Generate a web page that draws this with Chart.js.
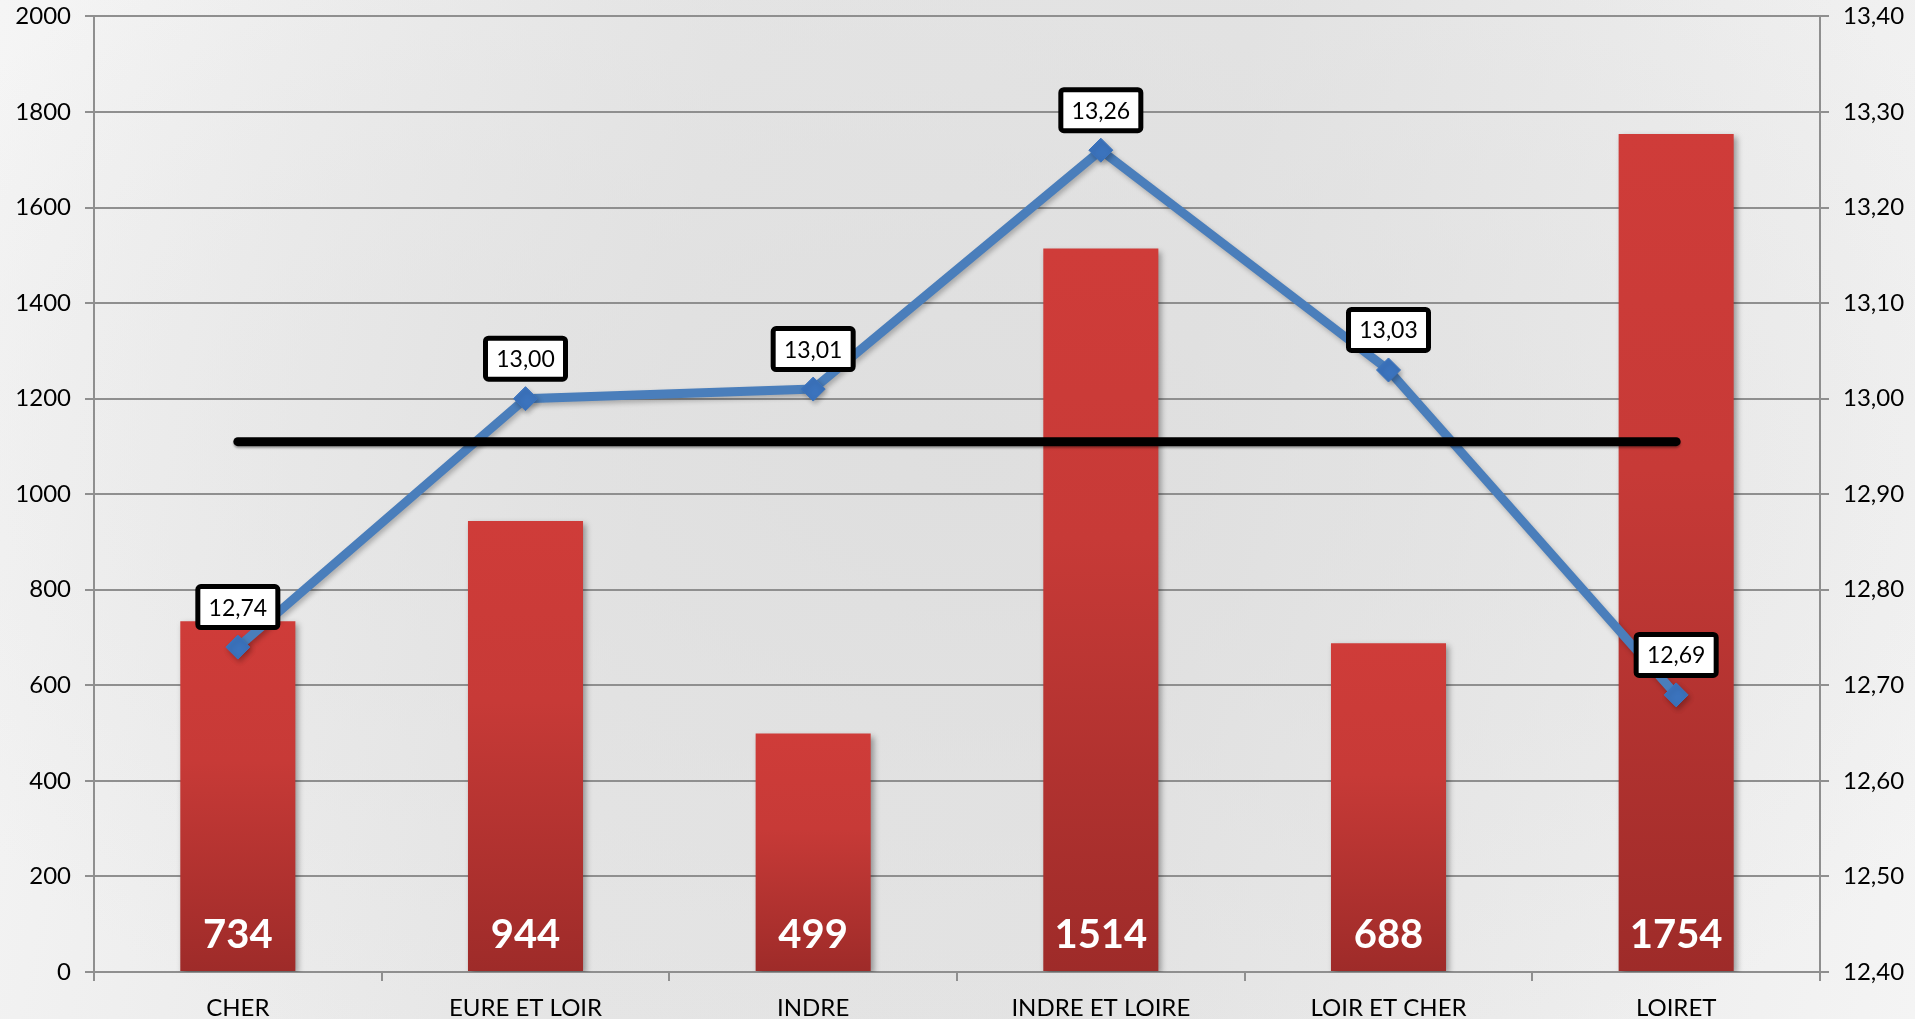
<!DOCTYPE html>
<html>
<head>
<meta charset="utf-8">
<script src="https://cdn.jsdelivr.net/npm/chart.js@4.4.1/dist/chart.umd.min.js"></script>
<style>
  html, body { margin: 0; padding: 0; }
  body {
    width: 1915px; height: 1019px; overflow: hidden;
    background:
      radial-gradient(ellipse 60% 70% at 50% 45%, rgba(222,222,222,0.9), rgba(222,222,222,0) 100%),
      linear-gradient(100deg, #f5f5f5 0%, #e6e6e6 35%, #e4e4e4 60%, #ececec 80%, #f4f4f4 100%);
  }
  #wrap { position: relative; width: 1915px; height: 1019px; }
</style>
</head>
<body>
<div id="wrap"><canvas id="dept-chart"></canvas></div>
<script>
// Départements de la région Centre
const departements = ['CHER', 'EURE ET LOIR', 'INDRE', 'INDRE ET LOIRE', 'LOIR ET CHER', 'LOIRET'];
const effectifs = [734, 944, 499, 1514, 688, 1754];
const notes = [12.74, 13.00, 13.01, 13.26, 13.03, 12.69];
const moyenne = [12.955, 12.955, 12.955, 12.955, 12.955, 12.955];

const gridGray = '#8f8f8f';
const fontFam = 'Lato, "Open Sans", sans-serif';

const fmtNote = v => v.toFixed(2).replace('.', ',');

// ombres portées des barres et des marqueurs
const shadowPlugin = {
  id: 'shadows',
  beforeDatasetDraw(chart, args) {
    const ctx = chart.ctx;
    ctx.save();
    if (args.index === 0) {
      ctx.shadowColor = 'rgba(0,0,0,0.3)';
      ctx.shadowBlur = 2; ctx.shadowOffsetY = 2;
    } else if (args.index === 1) {
      ctx.shadowColor = 'rgba(0,0,0,0.25)';
      ctx.shadowBlur = 5; ctx.shadowOffsetX = 2; ctx.shadowOffsetY = 3;
    } else {
      ctx.shadowColor = 'rgba(0,0,0,0.35)';
      ctx.shadowBlur = 6; ctx.shadowOffsetX = 3; ctx.shadowOffsetY = 3;
    }
  },
  afterDatasetDraw(chart) { chart.ctx.restore(); }
};

// étiquettes : effectifs en bas des barres, notes encadrées au-dessus des points
const labelsPlugin = {
  id: 'valueLabels',
  afterDatasetsDraw(chart) {
    const ctx = chart.ctx;
    const base = chart.scales.y.getPixelForValue(0);
    ctx.save();
    ctx.textAlign = 'center';
    ctx.textBaseline = 'middle';

    ctx.fillStyle = '#ffffff';
    ctx.font = 'bold 40px ' + fontFam;
    chart.getDatasetMeta(2).data.forEach((bar, i) => {
      ctx.fillText(String(effectifs[i]), bar.x, base - 37);
    });

    ctx.font = '23px ' + fontFam;
    chart.getDatasetMeta(1).data.forEach((pt, i) => {
      const w = 80, h = 41, cx = pt.x, cy = pt.y - 40;
      ctx.beginPath();
      ctx.roundRect(cx - w / 2, cy - h / 2, w, h, 3);
      ctx.fillStyle = '#ffffff';
      ctx.fill();
      ctx.lineWidth = 5;
      ctx.strokeStyle = '#000000';
      ctx.stroke();
      ctx.fillStyle = '#000000';
      ctx.fillText(fmtNote(notes[i]), cx, cy + 1);
    });
    ctx.restore();
  }
};

function barGradient(c) {
  const chart = c.chart;
  if (!chart.chartArea) return '#c93a37';
  const y = chart.scales.y;
  const top = y.getPixelForValue(c.raw);
  const bottom = y.getPixelForValue(0);
  const g = chart.ctx.createLinearGradient(0, top, 0, bottom);
  g.addColorStop(0, '#cf3c39');
  g.addColorStop(0.4, '#c73a37');
  g.addColorStop(1, '#9e2b29');
  return g;
}

new Chart(document.getElementById('dept-chart'), {
  data: {
    labels: departements,
    datasets: [
      {
        type: 'line', label: 'Moyenne',
        data: moyenne, yAxisID: 'y1', order: 0,
        borderColor: '#000000', borderWidth: 9, borderCapStyle: 'round',
        pointRadius: 0, tension: 0
      },
      {
        type: 'line', label: 'Note',
        data: notes, yAxisID: 'y1', order: 1,
        borderColor: '#4a7ebb', borderWidth: 9, tension: 0,
        pointStyle: 'rectRot', pointRadius: 12,
        pointBackgroundColor: '#3b73bd', pointBorderColor: '#3b73bd', pointBorderWidth: 1
      },
      {
        type: 'bar', label: 'Effectif',
        data: effectifs, yAxisID: 'y', order: 2,
        backgroundColor: barGradient,
        categoryPercentage: 1, barPercentage: 0.4
      }
    ]
  },
  options: {
    responsive: true,
    maintainAspectRatio: false,
    animation: false,
    layout: { padding: { top: 14 } },
    plugins: { legend: { display: false }, tooltip: { enabled: false } },
    scales: {
      x: {
        offset: true,
        afterFit: s => { s.height = 47; },
        grid: { drawOnChartArea: false, color: gridGray, lineWidth: 2, tickLength: 9, offset: true },
        border: { display: true, color: gridGray, width: 2 },
        ticks: { color: '#000000', font: { family: fontFam, size: 24 }, padding: 13 }
      },
      y: {
        position: 'left', min: 0, max: 2000,
        afterFit: s => { s.width = 94; },
        grid: { color: gridGray, lineWidth: 2, tickLength: 9 },
        border: { display: true, color: gridGray, width: 2 },
        ticks: { stepSize: 200, color: '#000000', font: { family: fontFam, size: 24, lineHeight: 0.2 },
                 padding: 14, callback: v => String(v) }
      },
      y1: {
        position: 'right', min: 12.4, max: 13.4,
        afterFit: s => { s.width = 95; },
        grid: { drawOnChartArea: false, color: gridGray, lineWidth: 2, tickLength: 9 },
        border: { display: true, color: gridGray, width: 2 },
        ticks: { stepSize: 0.1, color: '#000000', font: { family: fontFam, size: 24, lineHeight: 0.2 },
                 padding: 14, callback: v => fmtNote(v) }
      }
    }
  },
  plugins: [shadowPlugin, labelsPlugin]
});
</script>
</body>
</html>
